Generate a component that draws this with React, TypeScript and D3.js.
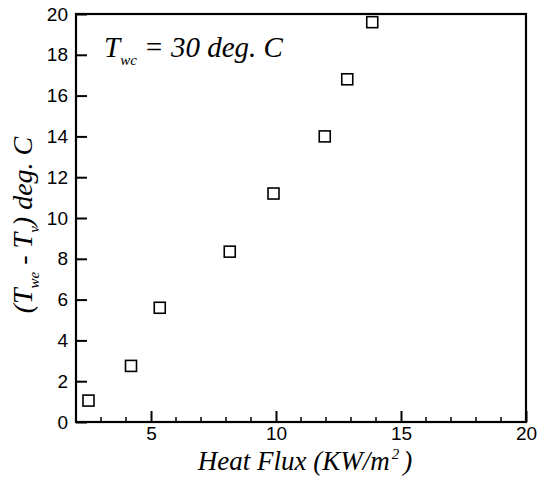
import React, { useRef, useEffect } from 'react';
import * as d3 from 'd3';

// heat flux (KW/m^2) vs wall superheat (deg C)
const HEAT_FLUX = [2.5, 4.2, 5.35, 8.15, 9.9, 11.95, 12.85, 13.85];
const DELTA_T = [1.05, 2.75, 5.6, 8.35, 11.2, 14.0, 16.8, 19.6];
const X_TICKS = [5, 10, 15, 20];
const X_MINOR = [3, 4, 6, 7, 8, 9, 11, 12, 13, 14, 16, 17, 18, 19];
const Y_TICKS = [0, 2, 4, 6, 8, 10, 12, 14, 16, 18, 20];

const SANS = '"Liberation Sans", Arial, sans-serif';
const SERIF = '"Liberation Serif", "Times New Roman", serif';

export default function App() {
  const ref = useRef<SVGSVGElement>(null);

  useEffect(() => {
    if (!ref.current) return;
    const svg = d3.select(ref.current);
    svg.selectAll('*').remove();

    const left = 76, right = 526, top = 14, bottom = 422;
    const x = d3.scaleLinear().domain([2, 20]).range([left, right]);
    const y = d3.scaleLinear().domain([0, 20]).range([bottom, top]);

    svg.append('rect')
      .attr('width', 540).attr('height', 480)
      .attr('fill', '#fff');

    // ── frame ────────────────────────────────────────────────
    svg.append('rect')
      .attr('x', left).attr('y', top)
      .attr('width', right - left).attr('height', bottom - top)
      .attr('fill', 'none')
      .attr('stroke', '#000')
      .attr('stroke-width', 2.2);

    // ── bottom axis (ticks inward) ───────────────────────────
    const xAxis = d3.axisBottom(x)
      .tickValues(X_TICKS)
      .tickSize(-11)
      .tickPadding(5);

    svg.append('g')
      .attr('transform', `translate(0,${bottom})`)
      .call(xAxis)
      .call(ax => ax.select('.domain').remove())
      .call(ax => ax.selectAll('.tick line').attr('stroke', '#000').attr('stroke-width', 2))
      .call(ax => ax.selectAll('.tick text')
        .attr('fill', '#000')
        .attr('font-size', '19px')
        .attr('font-family', SANS));

    svg.append('g')
      .selectAll('line')
      .data(X_MINOR)
      .join('line')
      .attr('x1', d => x(d)).attr('x2', d => x(d))
      .attr('y1', bottom).attr('y2', bottom - 5)
      .attr('stroke', '#000')
      .attr('stroke-width', 1.5);

    // ── left axis ────────────────────────────────────────────
    const yAxis = d3.axisLeft(y)
      .tickValues(Y_TICKS)
      .tickSize(-11)
      .tickPadding(8);

    svg.append('g')
      .attr('transform', `translate(${left},0)`)
      .call(yAxis)
      .call(ax => ax.select('.domain').remove())
      .call(ax => ax.selectAll('.tick line').attr('stroke', '#000').attr('stroke-width', 2))
      .call(ax => ax.selectAll('.tick text')
        .attr('fill', '#000')
        .attr('font-size', '19px')
        .attr('font-family', SANS));

    // ── data markers ─────────────────────────────────────────
    const s = 11;
    svg.append('g')
      .selectAll('rect')
      .data(HEAT_FLUX.map((v, i) => [v, DELTA_T[i]]))
      .join('rect')
      .attr('x', d => x(d[0]) - s / 2)
      .attr('y', d => y(d[1]) - s / 2)
      .attr('width', s).attr('height', s)
      .attr('fill', 'none')
      .attr('stroke', '#000')
      .attr('stroke-width', 1.6);

    // ── annotation ───────────────────────────────────────────
    const note = svg.append('text')
      .attr('x', 104).attr('y', 57)
      .attr('font-family', SERIF)
      .attr('font-style', 'italic')
      .attr('font-size', '29px')
      .attr('fill', '#000');
    note.append('tspan').text('T');
    note.append('tspan').attr('dy', 8).attr('font-size', '15px').text('wc');
    note.append('tspan').attr('dy', -8).text(' = 30 deg. C');

    // ── axis titles ──────────────────────────────────────────
    const xt = svg.append('text')
      .attr('x', 305).attr('y', 470)
      .attr('text-anchor', 'middle')
      .attr('font-family', SERIF)
      .attr('font-style', 'italic')
      .attr('font-size', '27px')
      .attr('fill', '#000');
    xt.append('tspan').text('Heat Flux (KW/m');
    xt.append('tspan').attr('dy', -11).attr('dx', 2).attr('font-size', '15px').text('2');
    xt.append('tspan').attr('dy', 11).attr('dx', 4).text(')');

    const yt = svg.append('text')
      .attr('transform', 'translate(32,225) rotate(-90)')
      .attr('text-anchor', 'middle')
      .attr('font-family', SERIF)
      .attr('font-style', 'italic')
      .attr('font-size', '28px')
      .attr('fill', '#000');
    yt.append('tspan').text('(T');
    yt.append('tspan').attr('dy', 7).attr('font-size', '15px').text('we');
    yt.append('tspan').attr('dy', -7).text(' - T');
    yt.append('tspan').attr('dy', 7).attr('font-size', '15px').text('v');
    yt.append('tspan').attr('dy', -7).text(')  deg. C');
  }, []);

  return (
    <svg
      ref={ref}
      width={540}
      height={480}
      style={{ position: 'absolute', left: 0, top: 0 }}
    />
  );
}
